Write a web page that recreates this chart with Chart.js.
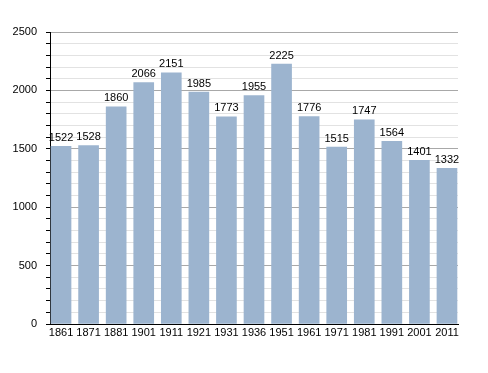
<!DOCTYPE html>
<html><head><meta charset="utf-8">
<script src="https://cdn.jsdelivr.net/npm/chart.js@4/dist/chart.umd.min.js"></script>
<style>html,body{margin:0;padding:0;background:#fff}canvas{display:block}</style>
</head><body>
<canvas id="c" width="488" height="373"></canvas>
<script>
const years = ['1861','1871','1881','1901','1911','1921','1931','1936','1951','1961','1971','1981','1991','2001','2011'];
const population = [1522,1528,1860,2066,2151,1985,1773,1955,2225,1776,1515,1747,1564,1401,1332];
const yMin = 0, yMax = 2500, minorStep = 100, majorStep = 500;

const FONT = 'Liberation Sans, Arial, sans-serif';

const valueLabels = {
  id: 'valueLabels',
  afterDatasetsDraw(chart) {
    const ctx = chart.ctx;
    const meta = chart.getDatasetMeta(0);
    ctx.save();
    ctx.font = '11px ' + FONT;
    ctx.fillStyle = '#000';
    ctx.textAlign = 'center';
    ctx.textBaseline = 'bottom';
    meta.data.forEach((bar, i) => {
      ctx.fillText(String(population[i]), bar.x, bar.y - 3);
    });
    ctx.restore();
  }
};

new Chart(document.getElementById('c'), {
  type: 'bar',
  data: {
    datasets: [{
      data: population.map((v, i) => ({ x: i, y: v })),
      backgroundColor: '#9cb4cf',
      borderWidth: 0,
      barThickness: 20
    }]
  },
  options: {
    responsive: false,
    animation: false,
    layout: { padding: { top: 32, right: 30, left: 0, bottom: 0 } },
    plugins: { legend: { display: false }, tooltip: { enabled: false } },
    scales: {
      x: {
        type: 'linear',
        min: -0.4, max: years.length - 0.6,
        offset: false,
        grid: { display: false, drawTicks: false },
        border: { display: true, color: '#000', width: 1 },
        afterBuildTicks(s) { s.ticks = years.map((_, i) => ({ value: i })); },
        ticks: {
          autoSkip: false, maxRotation: 0,
          color: '#000', font: { family: FONT, size: 11 }, padding: 2,
          callback: (v) => (years[v] !== undefined ? years[v] : '')
        },
        afterFit(s) { s.height = 49; }
      },
      y: {
        min: yMin, max: yMax,
        border: { display: true, color: '#000', width: 1 },
        grid: {
          color: (c) => (c.tick && c.tick.value % majorStep === 0) ? '#a8a8a8' : '#e2e2e2',
          tickColor: '#000',
          tickLength: 4,
          drawTicks: true
        },
        ticks: {
          stepSize: minorStep,
          autoSkip: false,
          color: '#000',
          font: { family: FONT, size: 11 },
          padding: 9,
          callback: (v) => (v % majorStep === 0 ? String(v) : '')
        },
        afterFit(s) { s.width = 50; }
      }
    }
  },
  plugins: [valueLabels]
});
</script>
</body></html>
